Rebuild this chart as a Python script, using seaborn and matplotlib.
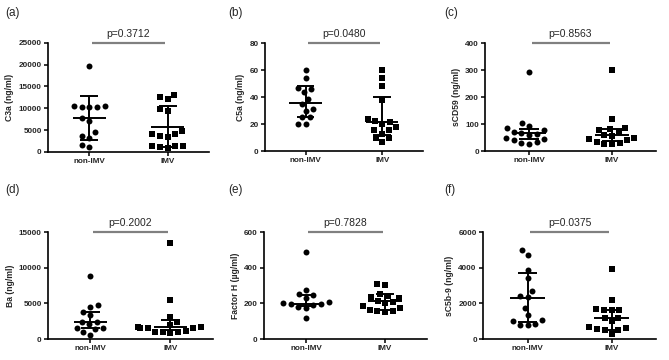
"""
Complement markers in non-IMV vs IMV patients: six scatter panels
with centre line and whiskers, plus the p-value bracket on top.
"""

import matplotlib.pyplot as plt
import numpy as np
import pandas as pd
import seaborn as sns

GROUPS = ["non-IMV", "IMV"]
PANEL_LABELS = ["(a)", "(b)", "(c)", "(d)", "(e)", "(f)"]
Y_LABELS = ["C3a (ng/ml)", "C5a (ng/ml)", "sCD59 (ng/ml)",
            "Ba (ng/ml)", "Factor H (\u00b5g/ml)", "sC5b-9 (ng/ml)"]
Y_MAX = [25000, 80, 400, 15000, 600, 6000]
Y_STEP = [5000, 20, 100, 5000, 200, 2000]
P_VALUES = ["p=0.3712", "p=0.0480", "p=0.8563", "p=0.2002", "p=0.7828", "p=0.0375"]

# individual values
C3A_NON = [19800, 10600, 10500, 10400, 10300, 10200, 7700, 7200, 4500, 3600, 3300, 1600, 1100]
C3A_IMV = [13100, 12700, 12200, 9800, 9400, 4800, 4200, 4000, 3600, 3400, 1400, 1300, 1300, 1100, 900]
C5A_NON = [60, 54, 47, 46, 44, 39, 35, 31, 30, 25.5, 25, 20, 20]
C5A_IMV = [60.5, 54.5, 48.5, 38, 24, 22.5, 22, 20, 18, 16, 15.5, 13, 10, 10, 7]
CD59_NON = [292, 103, 92, 85, 78, 72, 68, 65, 60, 50, 45, 40, 35, 30, 28]
CD59_IMV = [302, 118, 85, 82, 80, 70, 60, 55, 50, 45, 40, 35, 30, 28, 25]
BA_NON = [8860, 4800, 4450, 3750, 3300, 2450, 2450, 2100, 1600, 1600, 1400, 1000, 560]
BA_IMV = [13500, 5500, 3050, 2450, 1900, 1750, 1650, 1600, 1600, 1500, 1100, 1000, 1000, 1000, 850]
FH_NON = [490, 277, 252, 245, 230, 205, 200, 195, 195, 190, 180, 175, 120]
FH_IMV = [310, 305, 255, 240, 235, 230, 215, 205, 200, 185, 175, 165, 160, 155, 150]
C5B9_NON = [5000, 4700, 3900, 3400, 2700, 2400, 2350, 1750, 1350, 1050, 1000, 850, 800, 800]
C5B9_IMV = [3950, 2200, 1700, 1650, 1650, 1650, 1200, 1200, 1000, 650, 600, 550, 500, 500, 300]

# centre line, lower and upper whisker per group
C3A_LINES = [(7800, 2700, 12800), (5800, 1100, 10500)]
C5A_LINES = [(35.5, 25.5, 48.3), (21.5, 12.1, 40.0)]
CD59_LINES = [(67, 45, 82), (59, 37, 83)]
BA_LINES = [(2400, 1600, 3750), (1750, 1300, 2600)]
FH_LINES = [(198, 185, 249), (212, 162, 250)]
C5B9_LINES = [(2300, 950, 3700), (1200, 500, 1650)]

PANEL_VALUES = [(C3A_NON, C3A_IMV), (C5A_NON, C5A_IMV), (CD59_NON, CD59_IMV),
                (BA_NON, BA_IMV), (FH_NON, FH_IMV), (C5B9_NON, C5B9_IMV)]
PANEL_LINES = [C3A_LINES, C5A_LINES, CD59_LINES, BA_LINES, FH_LINES, C5B9_LINES]

# axes rectangles in figure fractions (left, bottom, width, height)
AX_RECTS = [
    (0.0717, 0.578, 0.2407, 0.303),
    (0.396, 0.580, 0.236, 0.300),
    (0.725, 0.580, 0.2556, 0.300),
    (0.0717, 0.0583, 0.2466, 0.297),
    (0.3946, 0.0583, 0.2437, 0.297),
    (0.722, 0.0583, 0.2586, 0.297),
]
LABEL_POS = [(0.008, 0.963), (0.341, 0.963), (0.664, 0.963),
             (0.008, 0.472), (0.341, 0.472), (0.664, 0.472)]

sns.set_theme(style="ticks")
plt.rcParams["font.family"] = ["Liberation Sans", "DejaVu Sans"]

fig = plt.figure(figsize=(6.69, 3.6), dpi=100)

for idx in range(6):
    ax = fig.add_axes(AX_RECTS[idx])
    non_vals, imv_vals = PANEL_VALUES[idx]
    df = pd.DataFrame({
        "group": [GROUPS[0]] * len(non_vals) + [GROUPS[1]] * len(imv_vals),
        "value": list(non_vals) + list(imv_vals),
    })
    for g, marker in zip(GROUPS, ["o", "s"]):
        # transparent edge widens the swarm spacing without enlarging the dots
        sns.swarmplot(data=df[df["group"] == g], x="group", y="value", order=GROUPS,
                      marker=marker, color="black", size=4.3, ax=ax, clip_on=False,
                      linewidth=1.1, edgecolor=(0, 0, 0, 0), warn_thresh=1.0)

    for pos, (centre, lo, hi) in enumerate(PANEL_LINES[idx]):
        ax.hlines(centre, pos - 0.21, pos + 0.21, color="black", lw=1.4, zorder=4)
        ax.vlines(pos, lo, hi, color="black", lw=1.4, zorder=4)
        ax.hlines([lo, hi], pos - 0.115, pos + 0.115, color="black", lw=1.4, zorder=4)

    ymax = Y_MAX[idx]
    ax.set_ylim(0, ymax)
    ax.set_xlim(-0.53, 1.53)
    ax.set_yticks(np.arange(0, ymax + 1, Y_STEP[idx]))
    ax.set_xlabel("")
    ax.set_ylabel(Y_LABELS[idx], fontsize=6.2, fontweight="bold", labelpad=3)
    ax.tick_params(axis="both", labelsize=5.9, width=1.1, length=3, pad=1.5, color="black")
    for lab in ax.get_xticklabels() + ax.get_yticklabels():
        lab.set_fontweight("bold")
    sns.despine(ax=ax)
    for side in ["left", "bottom"]:
        ax.spines[side].set_linewidth(1.2)
        ax.spines[side].set_color("black")

    # p-value bracket
    ax.plot([0.03, 0.97], [ymax, ymax], color="#808080", lw=1.6, clip_on=False,
            solid_capstyle="butt")
    ax.text(0.5, ymax * 1.085, P_VALUES[idx], ha="center", va="center",
            fontsize=7.5, clip_on=False)

    fig.text(LABEL_POS[idx][0], LABEL_POS[idx][1], PANEL_LABELS[idx],
             fontsize=8.5, ha="left", va="center")

fig.savefig("out.png", dpi=100)
